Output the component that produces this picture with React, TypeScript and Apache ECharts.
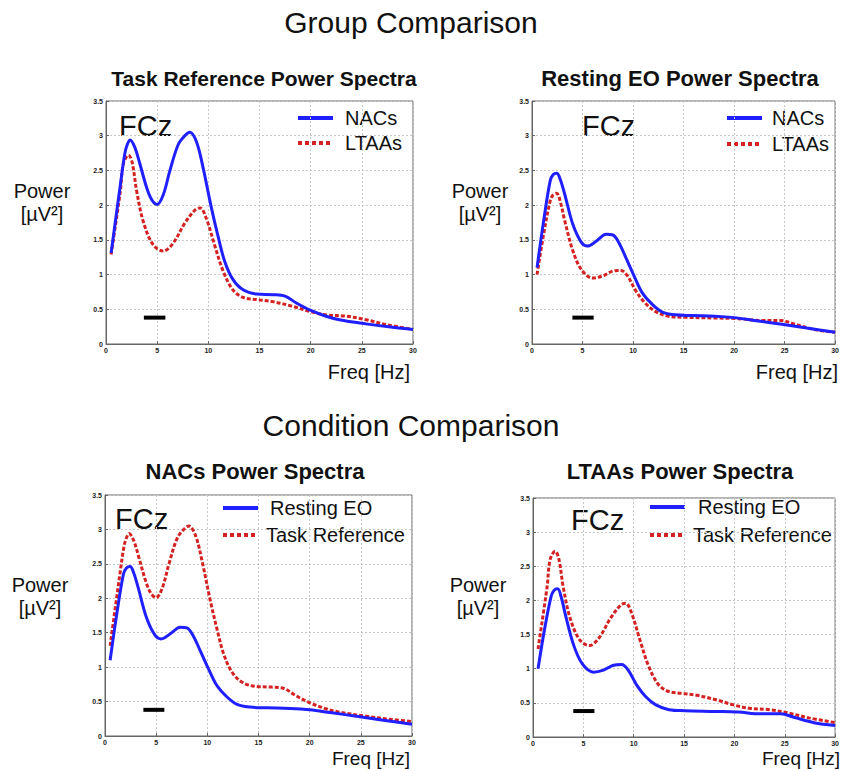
import React, { useEffect, useRef } from "react";
import * as echarts from "echarts";

// ---- data ----
const xTicks = [0, 5, 10, 15, 20, 25, 30];
const yTicks = [0, 0.5, 1, 1.5, 2, 2.5, 3, 3.5];

const nacsTaskFreq = [0.5, 1.4, 1.85, 2.1, 2.35, 2.8, 3.3, 4.0, 4.5, 5.0, 5.6, 6.25, 7.05, 7.7, 8.2, 8.85, 9.5, 10.3, 11.0, 11.6, 12.4, 13.4, 14.7, 16.3, 17.5, 18.6, 19.9, 21.5, 22.8, 25.4, 28.0, 30.0];
const nacsTaskPower = [1.31, 2.29, 2.75, 2.88, 2.94, 2.84, 2.6, 2.24, 2.07, 2.01, 2.15, 2.5, 2.87, 3.0, 3.05, 2.91, 2.53, 1.96, 1.52, 1.19, 0.93, 0.78, 0.72, 0.71, 0.69, 0.59, 0.49, 0.4, 0.35, 0.29, 0.24, 0.21];

const ltaasTaskFreq = [0.5, 1.4, 1.7, 2.2, 2.55, 3.0, 3.65, 4.6, 5.6, 6.55, 7.7, 8.7, 9.2, 9.8, 10.6, 11.45, 12.4, 13.4, 14.7, 16.3, 18.3, 19.9, 21.5, 23.5, 25.4, 27.4, 30.0];
const ltaasTaskPower = [1.29, 2.2, 2.6, 2.72, 2.62, 2.2, 1.76, 1.43, 1.34, 1.45, 1.74, 1.93, 1.96, 1.81, 1.43, 1.05, 0.78, 0.67, 0.64, 0.61, 0.54, 0.47, 0.42, 0.4, 0.35, 0.28, 0.21];

const nacsRestFreq = [0.5, 1.15, 1.8, 2.1, 2.45, 2.8, 3.25, 4.05, 4.9, 5.5, 6.35, 7.35, 8.0, 8.6, 9.3, 10.1, 10.9, 11.9, 12.9, 14.2, 15.8, 18.1, 20.0, 22.0, 24.9, 27.2, 30.0];
const nacsRestPower = [1.1, 1.77, 2.35, 2.44, 2.46, 2.37, 2.15, 1.72, 1.46, 1.41, 1.48, 1.58, 1.57, 1.46, 1.24, 0.98, 0.74, 0.57, 0.46, 0.42, 0.41, 0.4, 0.38, 0.34, 0.28, 0.23, 0.17];

const ltaasRestFreq = [0.5, 1.15, 1.8, 2.1, 2.45, 2.8, 3.25, 4.05, 4.9, 6.0, 7.0, 8.0, 8.8, 9.45, 10.3, 11.2, 12.2, 13.5, 15.1, 18.1, 20.4, 22.6, 24.6, 25.9, 27.9, 30.0];
const ltaasRestPower = [1.0, 1.58, 2.06, 2.15, 2.17, 2.05, 1.77, 1.34, 1.07, 0.95, 0.98, 1.05, 1.06, 0.98, 0.76, 0.59, 0.47, 0.4, 0.385, 0.375, 0.365, 0.34, 0.34, 0.29, 0.21, 0.17];

const bandFreq1 = [3.7, 5.8];
const bandFreq2 = [4.0, 6.1];
const bandFreq3 = [3.75, 5.8];
const bandFreq4 = [4.0, 6.1];
const bandLevel = 0.38;

const panelTitles = ["Task Reference Power Spectra", "Resting EO Power Spectra", "NACs Power Spectra", "LTAAs Power Spectra"];
const legendA = ["NACs", "LTAAs"];
const legendB = ["Resting EO", "Task Reference"];

const FONT = "'Liberation Sans', Arial, sans-serif";
const BLUE = "#1f1fff";
const RED = "#d42222";

const pairs = (xs: number[], ys: number[]) => xs.map((x, i) => [x, ys[i]]);

export default function App() {
  const ref = useRef<HTMLDivElement>(null);
  useEffect(() => {
    document.body.style.margin = "0";
    const chart = echarts.init(ref.current!, null, { renderer: "svg" });

    const grids = [
      { left: 106, top: 101, width: 307, height: 243 },
      { left: 532, top: 101, width: 307, height: 243 },
      { left: 105, top: 495, width: 307, height: 241 },
      { left: 533, top: 498, width: 307, height: 239 },
    ];

    const panels = [
      { blue: pairs(nacsTaskFreq, nacsTaskPower), red: pairs(ltaasTaskFreq, ltaasTaskPower), band: bandFreq1 },
      { blue: pairs(nacsRestFreq, nacsRestPower), red: pairs(ltaasRestFreq, ltaasRestPower), band: bandFreq2 },
      { blue: pairs(nacsRestFreq, nacsRestPower), red: pairs(nacsTaskFreq, nacsTaskPower), band: bandFreq3 },
      { blue: pairs(ltaasRestFreq, ltaasRestPower), red: pairs(ltaasTaskFreq, ltaasTaskPower), band: bandFreq4 },
    ];

    const xAxis = grids.map((_, i) => ({
      type: "value",
      gridIndex: i,
      min: xTicks[0],
      max: xTicks[xTicks.length - 1],
      interval: 5,
      axisLine: { show: true, lineStyle: { color: "#666", width: 1 } },
      axisTick: { show: true, inside: true, length: 3, lineStyle: { color: "#666" } },
      axisLabel: { fontSize: 7, color: "#222", margin: 3, fontFamily: FONT, fontWeight: "bold" },
      splitLine: { show: true, lineStyle: { color: "#c8c8c8", type: [2, 2], width: 1 } },
    }));
    const yAxis = grids.map((_, i) => ({
      type: "value",
      gridIndex: i,
      min: yTicks[0],
      max: yTicks[yTicks.length - 1],
      interval: 0.5,
      axisLine: { show: true, lineStyle: { color: "#666", width: 1 } },
      axisTick: { show: true, inside: true, length: 3, lineStyle: { color: "#666" } },
      axisLabel: { fontSize: 7, color: "#222", margin: 3, fontFamily: FONT, fontWeight: "bold" },
      splitLine: { show: true, lineStyle: { color: "#c8c8c8", type: [2, 2], width: 1 } },
    }));

    const series: any[] = [];
    panels.forEach((p, i) => {
      series.push({
        type: "line", xAxisIndex: i, yAxisIndex: i, data: p.red, smooth: 0.35, symbol: "none",
        lineStyle: { color: RED, width: 3, type: [4, 2] },
      });
      series.push({
        type: "line", xAxisIndex: i, yAxisIndex: i, data: p.blue, smooth: 0.35, symbol: "none",
        lineStyle: { color: BLUE, width: 3 },
      });
      series.push({
        type: "line", xAxisIndex: i, yAxisIndex: i, data: p.band.map((f) => [f, bandLevel]), symbol: "none",
        lineStyle: { color: "#000", width: 4 },
      });
    });

    const text = (t: string, x: number, y: number, size: number, align = "left", weight = "normal") => ({
      type: "text", x, y,
      style: { text: t, fill: "#111", font: `${weight} ${size}px ${FONT}`, textAlign: align, textVerticalAlign: "middle" },
    });

    const legend = (x0: number, y0: number, y1: number, tx0: number, tx1: number, labels: string[]) => [
      { type: "line", shape: { x1: x0, y1: y0, x2: x0 + 35, y2: y0 }, style: { stroke: BLUE, lineWidth: 4 } },
      { type: "line", shape: { x1: x0, y1: y1, x2: x0 + 35, y2: y1 }, style: { stroke: RED, lineWidth: 4, lineDash: [4, 3] } },
      text(labels[0], tx0, y0, 20),
      text(labels[1], tx1, y1, 20),
    ];

    const graphic: any[] = [
      text("Group Comparison", 411, 22, 30, "center"),
      text("Condition Comparison", 411, 425, 30, "center"),
      text(panelTitles[0], 264, 78, 21, "center", "bold"),
      text(panelTitles[1], 680, 78, 22, "center", "bold"),
      text(panelTitles[2], 255, 471, 22, "center", "bold"),
      text(panelTitles[3], 680, 471, 22, "center", "bold"),
      // y axis names
      text("Power", 42, 191, 20, "center"),
      text("[µV²]", 42, 214, 20, "center"),
      text("Power", 480, 191, 20, "center"),
      text("[µV²]", 480, 214, 20, "center"),
      text("Power", 40, 585, 20, "center"),
      text("[µV²]", 40, 608, 20, "center"),
      text("Power", 478, 585, 20, "center"),
      text("[µV²]", 478, 608, 20, "center"),
      // x axis names
      text("Freq [Hz]", 410, 372, 20, "right"),
      text("Freq [Hz]", 838, 372, 20, "right"),
      text("Freq [Hz]", 410, 758, 19, "right"),
      text("Freq [Hz]", 840, 758, 19, "right"),
      // FCz
      text("FCz", 119, 126, 29),
      text("FCz", 582, 126, 29),
      text("FCz", 115, 519, 29),
      text("FCz", 571, 520, 29),
      ...legend(298, 118, 143, 345, 345, legendA),
      ...legend(727, 118, 144, 772, 772, legendA),
      ...legend(223, 508, 535, 270, 266, legendB),
      ...legend(650, 507, 535, 698, 693, legendB),
    ];

    chart.setOption({
      animation: false,
      backgroundColor: "#fff",
      grid: grids.map((g) => ({ ...g, show: true, borderColor: "#666", borderWidth: 1, backgroundColor: "#fff" })),
      xAxis,
      yAxis,
      series,
      graphic,
    });
    return () => chart.dispose();
  }, []);
  return <div ref={ref} style={{ width: 842, height: 771 }} />;
}
